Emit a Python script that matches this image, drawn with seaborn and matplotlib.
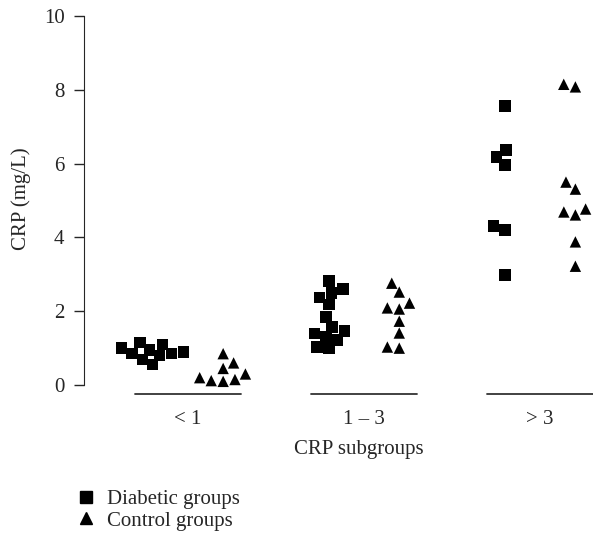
import numpy as np
import pandas as pd
import seaborn as sns
import matplotlib.pyplot as plt
from matplotlib.lines import Line2D

# CRP values (mg/L)
cats = ["< 1", "1 \u2013 3", "> 3"]
groups = ["Diabetic groups", "Control groups"]

diab_lt1 = [1.1, 0.8, 1.0, 0.55, 0.85, 0.9, 1.15, 0.7, 0.85, 0.95]
ctrl_lt1 = [0.85, 0.6, 0.45, 0.3, 0.2, 0.15, 0.12, 0.1]
diab_1_3 = [2.82, 2.49, 2.6, 2.38, 2.19, 1.84, 1.57, 1.46, 1.4, 1.3, 1.22, 1.0, 1.03]
ctrl_1_3 = [2.76, 2.52, 2.22, 2.06, 2.09, 1.73, 1.41, 1.0, 1.03]
diab_gt3 = [7.56, 6.37, 6.18, 5.96, 4.31, 4.2, 2.98]
ctrl_gt3 = [8.08, 8.15, 5.5, 5.31, 4.77, 4.61, 4.69, 3.88, 3.22]

rows = []
for cat, d, c in zip(cats, [diab_lt1, diab_1_3, diab_gt3], [ctrl_lt1, ctrl_1_3, ctrl_gt3]):
    rows += [(cat, groups[0], v) for v in d]
    rows += [(cat, groups[1], v) for v in c]
df = pd.DataFrame(rows, columns=["subgroup", "group", "crp"])

sns.set_style("ticks")
plt.rcParams["font.family"] = ["Liberation Serif", "DejaVu Serif"]
fs = 15

fig = plt.figure(figsize=(5.93, 5.40), dpi=100)
ax = fig.add_axes([0.1417, 0.263, 0.8583, 0.7107])

markers = {groups[0]: "s", groups[1]: "^"}
for g in groups:
    sns.swarmplot(data=df[df.group == g], x="subgroup", y="crp", hue="group",
                  order=cats, hue_order=groups, dodge=True, marker=markers[g],
                  palette={groups[0]: "black", groups[1]: "black"},
                  size=8.2, linewidth=0, legend=False, ax=ax)
for coll in ax.collections:
    coll.set_clip_on(False)

# underline for each subgroup
for i in range(len(cats)):
    ax.plot([i - 0.3, i + 0.3], [-0.25, -0.25], color="#333333", lw=1.3, clip_on=False)

ax.set_xlim(-0.59, 2.30)
ax.set_ylim(-0.35, 10.05)
ax.set_yticks([0, 2, 4, 6, 8, 10])
ax.spines["left"].set_bounds(0, 10)
ax.spines["bottom"].set_visible(False)
ax.spines["top"].set_visible(False)
ax.spines["right"].set_visible(False)
ax.tick_params(axis="y", length=7, width=1, pad=7, labelsize=fs)
ax.tick_params(axis="x", length=0, pad=9, labelsize=fs)
ax.set_ylabel("CRP (mg/L)", fontsize=fs)
ax.set_xlabel("CRP subgroups", fontsize=fs)
ax.yaxis.set_label_coords(-0.105, 0.518)
ax.xaxis.set_label_coords(0.54, -0.11)

handles = [Line2D([], [], marker="s", color="black", ls="", markersize=8),
           Line2D([], [], marker="^", color="black", ls="", markersize=9)]
fig.legend(handles, groups, loc="upper left", bbox_to_anchor=(0.113, 0.109),
           frameon=False, fontsize=fs, handletextpad=0.5, labelspacing=0.1,
           handlelength=1.0, borderaxespad=0)

fig.savefig("out.png", dpi=100)
